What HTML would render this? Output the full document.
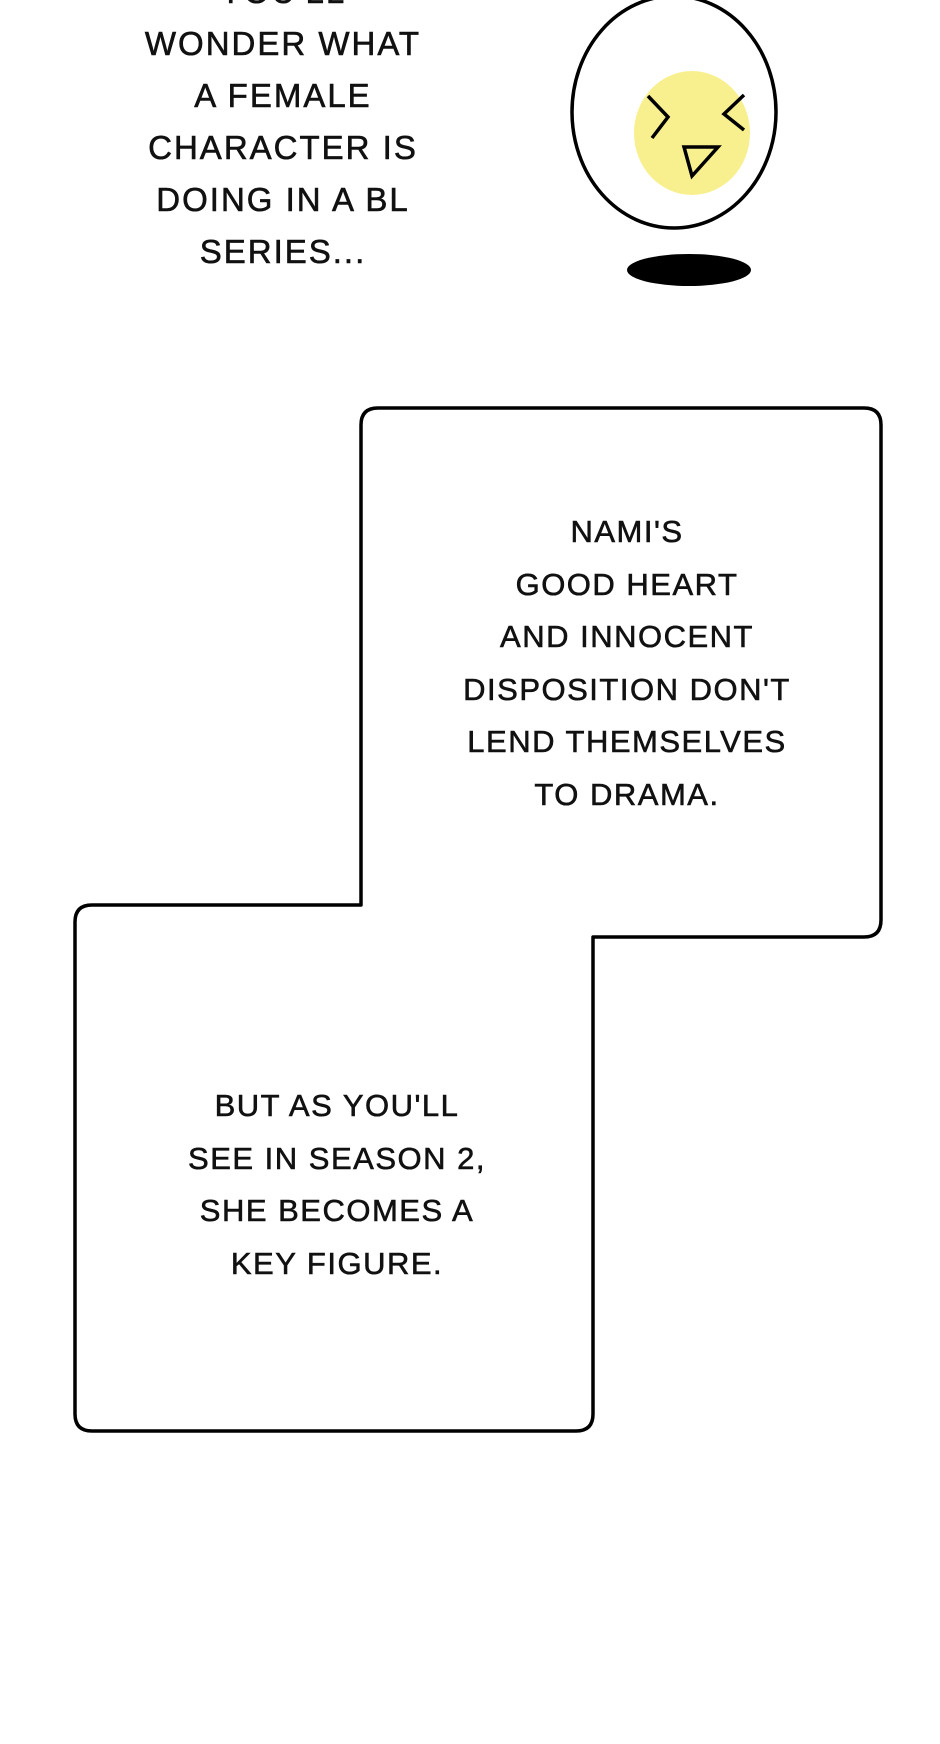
<!DOCTYPE html>
<html><head><style>
html,body{margin:0;padding:0;background:#fff;}
body{width:940px;height:1744px;position:relative;overflow:hidden;font-family:"Liberation Sans",sans-serif;color:#111;}
.t{position:absolute;text-align:center;white-space:nowrap;text-transform:uppercase;-webkit-text-stroke:0.6px #111;}
.top{left:83px;width:400px;top:-34px;font-size:33px;line-height:52px;letter-spacing:2px;}
.b1{left:427px;width:400px;top:506px;font-size:31px;line-height:52.5px;letter-spacing:1.5px;}
.b2{left:137px;width:400px;top:1080px;font-size:31px;line-height:52.5px;letter-spacing:1.5px;}
</style></head><body>
<svg width="940" height="1744" style="position:absolute;left:0;top:0">
  <ellipse cx="674" cy="112" rx="102" ry="116" fill="#fff" stroke="#000" stroke-width="3.5"/>
  <ellipse cx="692" cy="133" rx="58" ry="62" fill="#f8f08e"/>
  <polyline points="648,96 668,117 652,138" fill="none" stroke="#000" stroke-width="3.5"/>
  <polyline points="744,95 724,114 744,130" fill="none" stroke="#000" stroke-width="3.5"/>
  <polygon points="684,147 718,147 692,176" fill="none" stroke="#000" stroke-width="3.5"/>
  <ellipse cx="689" cy="270" rx="62" ry="16" fill="#000"/>
  <path d="M361,425 Q361,408 378,408 L864,408 Q881,408 881,425 L881,920 Q881,937 864,937 L593,937 L593,1414 Q593,1431 576,1431 L92,1431 Q75,1431 75,1414 L75,922 Q75,905 92,905 L361,905 Z" fill="#fff" stroke="#000" stroke-width="3.5" stroke-linejoin="round"/>
</svg>
<div class="t top">You'll<br>wonder what<br>a female<br>character is<br>doing in a BL<br>series...</div>
<div class="t b1">Nami's<br>good heart<br>and innocent<br>disposition don't<br>lend themselves<br>to drama.</div>
<div class="t b2">But as you'll<br>see in season 2,<br>she becomes a<br>key figure.</div>
</body></html>
